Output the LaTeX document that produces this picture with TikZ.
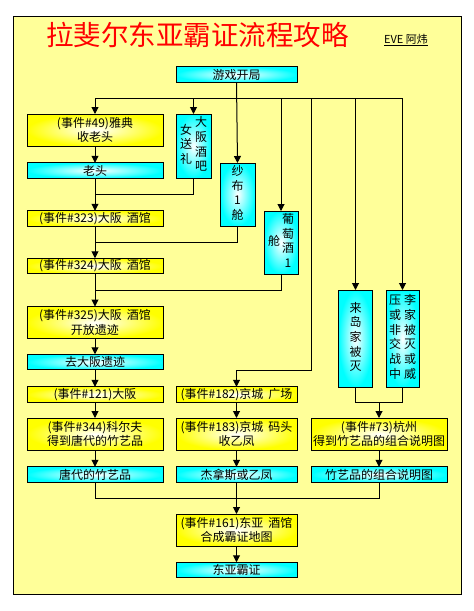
\documentclass[tikz,border=0pt]{standalone}
\usepackage{fontspec}
\setmainfont{Noto Sans CJK SC}
\usetikzlibrary{arrows.meta,calc}
\definecolor{bgy}{HTML}{FFFF99}
\definecolor{yfill}{HTML}{FFFF00}
\definecolor{cfill}{HTML}{00FFFF}
\definecolor{tred}{HTML}{FF0000}
\newcommand\boxfnt{\fontsize{12}{14.7}\selectfont}
\newcommand\vcol[1]{\begin{tabular}[c]{@{}c@{}}#1\end{tabular}}
\newcommand\gap{\hspace{5pt}}
\tikzset{
  box/.style={draw, line width=1pt, inner sep=0pt, outer sep=0pt, align=center, font=\boxfnt},
  ybox/.style={box, inner color=white, outer color=yfill},
  cbox/.style={box, inner color=white, outer color=cfill},
  wide/.style={minimum width=136pt},
  mid/.style={minimum width=121pt},
  one/.style={minimum height=15.5pt},
  two/.style={minimum height=32pt},
  arr/.style={line width=1pt, -{Triangle[width=7pt,length=7pt]}},
  ln/.style={line width=1pt}
}
\begin{document}
\begin{tikzpicture}[x=1pt,y=-1pt]
\useasboundingbox (0,0) rectangle (474,611);
\fill[white] (0,0) rectangle (474,611);
\draw[line width=1pt, fill=bgy] (13,16) rectangle (461,594);
\node[text=tred, font=\fontsize{27.5}{30}\selectfont, inner sep=0pt] (title) at (197.5,35) {拉斐尔东亚霸证流程攻略};
\node[font=\fontsize{11}{13}\selectfont, inner sep=0pt] (author) at (406,40) {\underline{EVE 阿炜}};

% boxes
\node[cbox, mid, one] (start) at (236.5,74.5) {游戏开局};
\node[ybox, wide, two] (e49) at (95,130) {(事件\#49)雅典\\收老头};
\node[cbox, wide, one] (laotou) at (95,170.5) {老头};
\node[cbox, minimum width=35pt, minimum height=64pt] (bar) at (193.5,146) {\vcol{女\\送\\礼}\hspace{3pt}\vcol{大\\阪\\酒\\吧}};
\node[cbox, minimum width=35pt, minimum height=63pt] (shabu) at (237.5,194.5) {\vcol{纱\\布\\1\\舱}};
\node[cbox, minimum width=34pt, minimum height=63pt] (putao) at (281,242.5) {\vcol{舱}\hspace{2pt}\vcol{葡\\萄\\酒\\1}};
\node[ybox, wide, one] (e323) at (95,218.5) {(事件\#323)大阪\gap 酒馆};
\node[ybox, wide, one] (e324) at (95,266) {(事件\#324)大阪\gap 酒馆};
\node[ybox, wide, two] (e325) at (95,322.5) {(事件\#325)大阪\gap 酒馆\\开放遗迹};
\node[cbox, wide, one] (ruins) at (95,362) {去大阪遗迹};
\node[ybox, wide, one] (e121) at (95,394.5) {(事件\#121)大阪};
\node[ybox, wide, two] (e344) at (95,434) {(事件\#344)科尔夫\\得到唐代的竹艺品};
\node[cbox, wide, one] (tang) at (95,474.5) {唐代的竹艺品};
\node[ybox, mid, one] (e182) at (236.5,394.5) {(事件\#182)京城\gap 广场};
\node[ybox, mid, two] (e183) at (236.5,434) {(事件\#183)京城\gap 码头\\收乙凤};
\node[cbox, mid, one] (jie) at (236.5,474.5) {杰拿斯或乙凤};
\node[cbox, minimum width=34pt, minimum height=97pt] (kuru) at (355.5,338.5) {\vcol{来\\岛\\家\\被\\灭}};
\node[cbox, minimum width=33pt, minimum height=97pt] (li) at (402.5,338.5) {\vcol{压\\或\\非\\交\\战\\中}\hspace{3pt}\vcol{李\\家\\被\\灭\\或\\威}};
\node[ybox, wide, two] (e73) at (379,434) {(事件\#73)杭州\\得到竹艺品的组合说明图};
\node[cbox, wide, one] (zhu) at (379,474.5) {竹艺品的组合说明图};
\node[ybox, mid, two] (e161) at (236.5,530) {(事件\#161)东亚\gap 酒馆\\合成霸证地图};
\node[cbox, mid, one] (final) at (236.5,570) {东亚霸证};

% junction coordinates
\coordinate (top) at (236.5,98.5);
\coordinate (j1) at (311,98.5);
\coordinate (j2) at (311,370.5);
\coordinate (rj) at (379,402.5);
\coordinate (mj) at (236.5,498.5);

% top branch
\draw[ln] (e49.north |- top) -- (li.north |- top);
\draw[arr] (start.south) -- (shabu.north);
\draw[arr] (e49.north |- top) -- (e49.north);
\draw[arr] (bar.north |- top) -- (bar.north);
\draw[arr] (putao.north |- top) -- (putao.north);
\draw[arr] (kuru.north |- top) -- (kuru.north);
\draw[arr] (li.north |- top) -- (li.north);
\draw[arr] (j1) -- (j2) -| (e182.north);

% left column
\draw[arr] (e49) -- (laotou);
\draw[arr] (laotou) -- (e323);
\draw[ln] (bar.south) |- ($(laotou.south)!0.5!(e323.north)$);
\draw[arr] (e323) -- (e324);
\draw[ln] (shabu.south) |- ($(e323.south)!0.5!(e324.north)$);
\draw[arr] (e324) -- (e325);
\draw[ln] (putao.south) |- ($(e324.south)!0.5!(e325.north)$);
\draw[arr] (e325) -- (ruins);
\draw[arr] (ruins) -- (e121);
\draw[arr] (e121) -- (e344);
\draw[arr] (e344) -- (tang);

% middle column
\draw[arr] (e182) -- (e183);
\draw[arr] (e183) -- (jie);

% right column
\draw[ln] (kuru.south) |- (rj) -| (li.south);
\draw[arr] (rj) -- (e73.north);
\draw[arr] (e73) -- (zhu);

% merge
\draw[ln] (tang.south) |- (mj) -| (zhu.south);
\draw[arr] (jie.south) -- (e161.north);
\draw[arr] (e161) -- (final);
\end{tikzpicture}
\end{document}
